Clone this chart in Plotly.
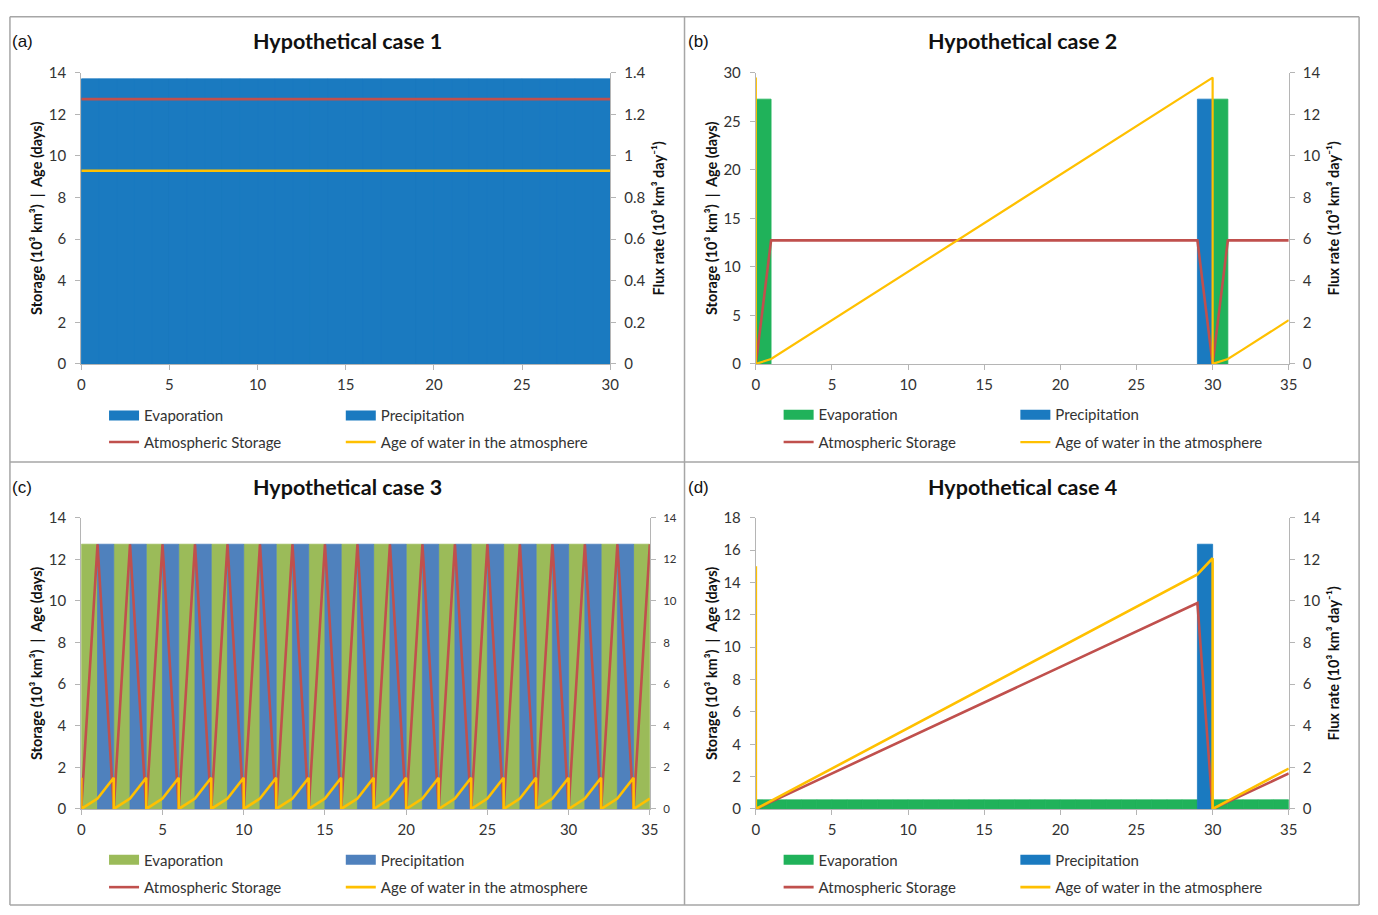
import plotly.graph_objects as go

W, H = 1378, 915

# ---------------- data ----------------
# Hypothetical case 1
a_bar_days = [0, 1, 2, 3, 4, 5, 6, 7, 8, 9, 10, 11, 12, 13, 14, 15, 16, 17, 18, 19,
              20, 21, 22, 23, 24, 25, 26, 27, 28, 29]
a_evaporation = [1.37, 1.37, 1.37, 1.37, 1.37, 1.37, 1.37, 1.37, 1.37, 1.37,
                 1.37, 1.37, 1.37, 1.37, 1.37, 1.37, 1.37, 1.37, 1.37, 1.37,
                 1.37, 1.37, 1.37, 1.37, 1.37, 1.37, 1.37, 1.37, 1.37, 1.37]
a_precipitation = [1.37, 1.37, 1.37, 1.37, 1.37, 1.37, 1.37, 1.37, 1.37, 1.37,
                   1.37, 1.37, 1.37, 1.37, 1.37, 1.37, 1.37, 1.37, 1.37, 1.37,
                   1.37, 1.37, 1.37, 1.37, 1.37, 1.37, 1.37, 1.37, 1.37, 1.37]
a_line_days = [0, 5, 10, 15, 20, 25, 30]
a_storage = [12.73, 12.73, 12.73, 12.73, 12.73, 12.73, 12.73]
a_age = [9.29, 9.29, 9.29, 9.29, 9.29, 9.29, 9.29]

# Hypothetical case 2
b_evap_days = [0, 30]
b_evaporation = [12.73, 12.73]
b_precip_days = [29]
b_precipitation = [12.73]
b_storage_days = [0, 1, 2, 3, 4, 5, 6, 7, 8, 9, 10, 11, 12, 13, 14, 15, 16, 17, 18,
                  19, 20, 21, 22, 23, 24, 25, 26, 27, 28, 29, 30, 31, 32, 33, 34, 35]
b_storage = [0, 12.73, 12.73, 12.73, 12.73, 12.73, 12.73, 12.73, 12.73, 12.73,
             12.73, 12.73, 12.73, 12.73, 12.73, 12.73, 12.73, 12.73, 12.73, 12.73,
             12.73, 12.73, 12.73, 12.73, 12.73, 12.73, 12.73, 12.73, 12.73, 12.73,
             0, 12.73, 12.73, 12.73, 12.73, 12.73]
b_age_days = [0, 0, 1, 2, 3, 4, 5, 6, 7, 8, 9, 10, 11, 12, 13, 14, 15, 16, 17, 18, 19,
              20, 21, 22, 23, 24, 25, 26, 27, 28, 29, 30, 30, 31, 32, 33, 34, 35]
b_age = [29.5, 0, 0.5, 1.5, 2.5, 3.5, 4.5, 5.5, 6.5, 7.5, 8.5, 9.5, 10.5, 11.5,
         12.5, 13.5, 14.5, 15.5, 16.5, 17.5, 18.5, 19.5, 20.5, 21.5, 22.5, 23.5,
         24.5, 25.5, 26.5, 27.5, 28.5, 29.5, 0, 0.5, 1.5, 2.5, 3.5, 4.5]

# Hypothetical case 3
c_evap_days = [0, 2, 4, 6, 8, 10, 12, 14, 16, 18, 20, 22, 24, 26, 28, 30, 32, 34]
c_evaporation = [12.73, 12.73, 12.73, 12.73, 12.73, 12.73, 12.73, 12.73, 12.73,
                 12.73, 12.73, 12.73, 12.73, 12.73, 12.73, 12.73, 12.73, 12.73]
c_precip_days = [1, 3, 5, 7, 9, 11, 13, 15, 17, 19, 21, 23, 25, 27, 29, 31, 33]
c_precipitation = [12.73, 12.73, 12.73, 12.73, 12.73, 12.73, 12.73, 12.73, 12.73,
                   12.73, 12.73, 12.73, 12.73, 12.73, 12.73, 12.73, 12.73]
c_storage_days = [0, 1, 2, 3, 4, 5, 6, 7, 8, 9, 10, 11, 12, 13, 14, 15, 16, 17, 18,
                  19, 20, 21, 22, 23, 24, 25, 26, 27, 28, 29, 30, 31, 32, 33, 34, 35]
c_storage = [0, 12.73, 0, 12.73, 0, 12.73, 0, 12.73, 0, 12.73, 0, 12.73,
             0, 12.73, 0, 12.73, 0, 12.73, 0, 12.73, 0, 12.73, 0, 12.73,
             0, 12.73, 0, 12.73, 0, 12.73, 0, 12.73, 0, 12.73, 0, 12.73]
c_age_days = [0, 0, 1, 2, 2, 3, 4, 4, 5, 6, 6, 7, 8, 8, 9, 10, 10, 11, 12, 12, 13,
              14, 14, 15, 16, 16, 17, 18, 18, 19, 20, 20, 21, 22, 22, 23, 24, 24, 25,
              26, 26, 27, 28, 28, 29, 30, 30, 31, 32, 32, 33, 34, 34, 35]
c_age = [1.5, 0, 0.5, 1.5, 0, 0.5, 1.5, 0, 0.5, 1.5, 0, 0.5, 1.5, 0, 0.5, 1.5, 0, 0.5,
         1.5, 0, 0.5, 1.5, 0, 0.5, 1.5, 0, 0.5, 1.5, 0, 0.5, 1.5, 0, 0.5, 1.5, 0, 0.5,
         1.5, 0, 0.5, 1.5, 0, 0.5, 1.5, 0, 0.5, 1.5, 0, 0.5, 1.5, 0, 0.5, 1.5, 0, 0.5]

# Hypothetical case 4
d_evap_days = [0, 1, 2, 3, 4, 5, 6, 7, 8, 9, 10, 11, 12, 13, 14, 15, 16, 17, 18, 19,
               20, 21, 22, 23, 24, 25, 26, 27, 28, 30, 31, 32, 33, 34]
d_evaporation = [0.44, 0.44, 0.44, 0.44, 0.44, 0.44, 0.44, 0.44, 0.44, 0.44,
                 0.44, 0.44, 0.44, 0.44, 0.44, 0.44, 0.44, 0.44, 0.44, 0.44,
                 0.44, 0.44, 0.44, 0.44, 0.44, 0.44, 0.44, 0.44, 0.44,
                 0.44, 0.44, 0.44, 0.44, 0.44]
d_precip_days = [29]
d_precipitation = [12.73]
d_storage_days = [0, 1, 2, 3, 4, 5, 6, 7, 8, 9, 10, 11, 12, 13, 14, 15, 16, 17, 18,
                  19, 20, 21, 22, 23, 24, 25, 26, 27, 28, 29, 30, 31, 32, 33, 34, 35]
d_storage = [0, 0.44, 0.88, 1.32, 1.76, 2.19, 2.63, 3.07, 3.51, 3.95, 4.39, 4.83,
             5.27, 5.71, 6.15, 6.58, 7.02, 7.46, 7.90, 8.34, 8.78, 9.22, 9.66, 10.10,
             10.54, 10.97, 11.41, 11.85, 12.29, 12.73, 0, 0.44, 0.88, 1.32, 1.76, 2.19]
d_age_days = [0, 0, 1, 2, 3, 4, 5, 6, 7, 8, 9, 10, 11, 12, 13, 14, 15, 16, 17, 18, 19,
              20, 21, 22, 23, 24, 25, 26, 27, 28, 29, 30, 30, 31, 32, 33, 34, 35]
d_age = [15.0, 0, 0.5, 1.0, 1.5, 2.0, 2.5, 3.0, 3.5, 4.0, 4.5, 5.0, 5.5, 6.0, 6.5,
         7.0, 7.5, 8.0, 8.5, 9.0, 9.5, 10.0, 10.5, 11.0, 11.5, 12.0, 12.5, 13.0,
         13.5, 14.0, 14.5, 15.5, 0, 0.5, 1.0, 1.5, 2.0, 2.5]

titles = ["Hypothetical case 1", "Hypothetical case 2",
          "Hypothetical case 3", "Hypothetical case 4"]
panel_tags = ["(a)", "(b)", "(c)", "(d)"]
series_names = ["Evaporation", "Precipitation", "Atmospheric Storage",
                "Age of water in the atmosphere"]

# ---------------- style ----------------
FONT = "Lato"
TXT = "#333333"
AX = "#b5b5b5"
RED = "#c0504d"
YEL = "#ffc000"
BLUE = "#1a7ac0"
GREEN = "#20b25a"
OLIVE = "#9bbb59"
STEEL = "#4f81bd"

LEFT_TITLE = "<b>Storage (10³ km³)  |  Age (days)</b>"
RIGHT_TITLE = "<b>Flux rate (10³ km³ day⁻¹)</b>"

def px_x(v):
    return v / W

def px_y(v):
    return 1 - v / H

panels = [
    dict(x="x", yb="y", yl="y2", xd=[78, 612], yd=[64, 361], xr=[0, 30], dx=5,
         lr=[0, 14], ldt=2, rr=[0, 1.4], rdt=0.2, rtitle=True, rfont=15,
         evap=(a_bar_days, a_evaporation, BLUE), prec=(a_bar_days, a_precipitation, BLUE),
         stor=(a_line_days, a_storage), age=(a_line_days, a_age), agew=2.6,
         legx=[141, 380], legy=[414, 441], ttl=(347, 32), tag=(6, 32)),
    dict(x="x2", yb="y3", yl="y4", xd=[759, 1297], yd=[64, 361], xr=[0, 35], dx=5,
         lr=[0, 30], ldt=5, rr=[0, 14], rdt=2, rtitle=True, rfont=15,
         evap=(b_evap_days, b_evaporation, GREEN), prec=(b_precip_days, b_precipitation, BLUE),
         stor=(b_storage_days, b_storage), age=(b_age_days, b_age), agew=2.2,
         legx=[822, 1061], legy=[413, 441], ttl=(1028, 32), tag=(688, 32)),
    dict(x="x3", yb="y5", yl="y6", xd=[78, 652], yd=[518, 815], xr=[0, 35], dx=5,
         lr=[0, 14], ldt=2, rr=[0, 14], rdt=2, rtitle=False, rfont=11.5,
         evap=(c_evap_days, c_evaporation, OLIVE), prec=(c_precip_days, c_precipitation, STEEL),
         stor=(c_storage_days, c_storage), age=(c_age_days, c_age), agew=2.6,
         legx=[141, 380], legy=[867, 895], ttl=(347, 487), tag=(6, 487)),
    dict(x="x4", yb="y7", yl="y8", xd=[759, 1297], yd=[518, 815], xr=[0, 35], dx=5,
         lr=[0, 18], ldt=2, rr=[0, 14], rdt=2, rtitle=True, rfont=15,
         evap=(d_evap_days, d_evaporation, GREEN), prec=(d_precip_days, d_precipitation, BLUE),
         stor=(d_storage_days, d_storage), age=(d_age_days, d_age), agew=2.6,
         legx=[822, 1061], legy=[867, 895], ttl=(1028, 487), tag=(688, 487)),
]

fig = go.Figure()
layout = dict(
    width=W, height=H, margin=dict(l=0, r=0, t=0, b=0),
    paper_bgcolor="white", plot_bgcolor="white",
    barmode="overlay", font=dict(family=FONT, size=15, color=TXT),
    annotations=[], shapes=[],
)

leg_idx = 0
for i, p in enumerate(panels):
    k = i + 1
    xkey = "xaxis" if k == 1 else f"xaxis{k}"
    ybkey = "yaxis" + ("" if p["yb"] == "y" else p["yb"][1:])
    ylkey = "yaxis" + p["yl"][1:]

    # legends for this panel (2 x 2 grid)
    legs = []
    for r in range(2):
        for c in range(2):
            leg_idx += 1
            lname = "legend" if leg_idx == 1 else f"legend{leg_idx}"
            legs.append(lname)
            layout[lname] = dict(
                x=px_x(p["legx"][c] - 40), y=px_y(p["legy"][r]),
                xanchor="left", yanchor="middle", orientation="h",
                bgcolor="rgba(0,0,0,0)", borderwidth=0,
                font=dict(family=FONT, size=15, color=TXT),
            )

    # bars on the flux (right) axis
    for j, key in enumerate(["evap", "prec"]):
        days, vals, col = p[key]
        grp = f"{key}{k}"
        fig.add_trace(go.Bar(
            x=days, y=vals, width=1, offset=0, name=series_names[j],
            marker=dict(color=col, line=dict(width=0.8, color=col)),
            xaxis=p["x"], yaxis=p["yb"], showlegend=False, legendgroup=grp,
        ))
        # legend swatch (wide rectangle like the original)
        fig.add_trace(go.Scatter(
            x=[None], y=[None], mode="lines", name=series_names[j],
            line=dict(color=col, width=10), xaxis=p["x"], yaxis=p["yb"],
            legend=legs[j], legendgroup=grp, hoverinfo="skip",
        ))

    # lines on the storage / age (left) axis
    sx, sy = p["stor"]
    fig.add_trace(go.Scatter(
        x=sx, y=sy, mode="lines", name=series_names[2],
        line=dict(color=RED, width=2.6), xaxis=p["x"], yaxis=p["yl"],
        legend=legs[2],
    ))
    ax_, ay_ = p["age"]
    fig.add_trace(go.Scatter(
        x=ax_, y=ay_, mode="lines", name=series_names[3],
        line=dict(color=YEL, width=p["agew"]), xaxis=p["x"], yaxis=p["yl"],
        legend=legs[3],
    ))

    xdom = [px_x(p["xd"][0]), px_x(p["xd"][1])]
    ydom = [px_y(p["yd"][1]), px_y(p["yd"][0])]
    tickfont = dict(family=FONT, size=15, color=TXT)
    layout[xkey] = dict(
        domain=xdom, anchor=p["yb"], range=p["xr"], tick0=0, dtick=p["dx"],
        showline=True, linecolor=AX, linewidth=1, ticks="outside", ticklen=5,
        tickcolor=AX, showgrid=False, zeroline=False, tickfont=tickfont,
        ticklabelstandoff=2,
    )
    layout[ybkey] = dict(
        domain=ydom, anchor=p["x"], side="right", range=p["rr"], tick0=0,
        dtick=p["rdt"], showline=True, linecolor=AX, linewidth=1,
        ticks="outside", ticklen=5, tickcolor=AX, showgrid=False,
        zeroline=False, tickfont=dict(family=FONT, size=p["rfont"], color=TXT),
        ticklabelstandoff=5,
    )
    if p["rtitle"]:
        layout[ybkey]["title"] = dict(text=RIGHT_TITLE, standoff=9,
                                      font=dict(family=FONT, size=14.5, color="#111111"))
    layout[ylkey] = dict(
        overlaying=p["yb"], anchor=p["x"], side="left", range=p["lr"], tick0=0,
        dtick=p["ldt"], showline=True, linecolor=AX, linewidth=1,
        ticks="outside", ticklen=5, tickcolor=AX, showgrid=False,
        zeroline=False, tickfont=tickfont, ticklabelstandoff=6,
        title=dict(text=LEFT_TITLE, standoff=2,
                   font=dict(family=FONT, size=14.5, color="#111111")),
    )

    # titles and panel tags
    layout["annotations"].append(dict(
        text=f"<b>{titles[i]}</b>", x=px_x(p["ttl"][0]), y=px_y(p["ttl"][1]),
        xref="paper", yref="paper", xanchor="center", yanchor="middle",
        showarrow=False, font=dict(family=FONT, size=21.5, color="#111111"),
    ))
    layout["annotations"].append(dict(
        text=panel_tags[i], x=px_x(p["tag"][0]), y=px_y(p["tag"][1]),
        xref="paper", yref="paper", xanchor="left", yanchor="middle",
        showarrow=False, font=dict(family="Liberation Sans", size=17, color="#111111"),
    ))

# panel frame lines
BORDER = "#a6a6a6"
for yy in [7, 461, 913]:
    layout["shapes"].append(dict(type="line", xref="paper", yref="paper",
                                 x0=px_x(6), x1=px_x(1368), y0=px_y(yy), y1=px_y(yy),
                                 line=dict(color=BORDER, width=1.5)))
for xx in [6, 687, 1368]:
    layout["shapes"].append(dict(type="line", xref="paper", yref="paper",
                                 x0=px_x(xx), x1=px_x(xx), y0=px_y(7), y1=px_y(913),
                                 line=dict(color=BORDER, width=1.5)))

fig.update_layout(**layout)
fig.write_html(
    "out.html",
    config={"displayModeBar": False},
    post_script="document.body.style.margin='0px';document.body.style.overflow='hidden';",
)
